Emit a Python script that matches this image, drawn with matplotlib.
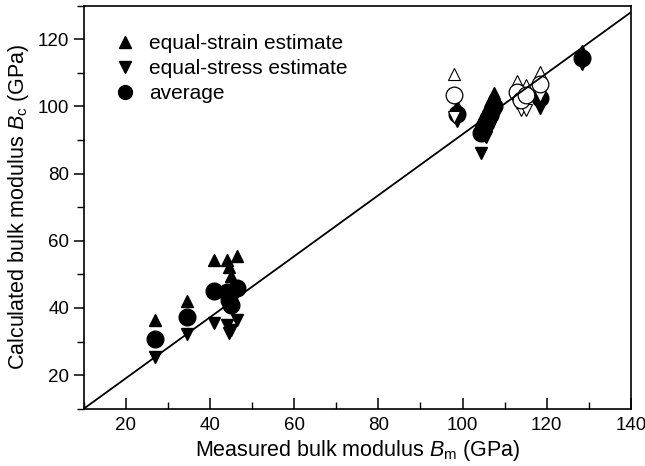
import matplotlib
matplotlib.use("Agg")
import matplotlib.pyplot as plt
from matplotlib.ticker import MultipleLocator

plt.rcParams['font.family'] = ['Liberation Sans', 'DejaVu Sans']
plt.rcParams['mathtext.fontset'] = 'custom'
plt.rcParams['mathtext.rm'] = 'Liberation Sans'
plt.rcParams['mathtext.it'] = 'Liberation Sans:italic'

# Filled symbols (materials, legend series)
x_filled = [26.8, 34.6, 41.0, 44.0, 44.5, 45.0, 46.3, 98.8, 104.5, 105.5, 106.5, 107.5, 118.5, 128.5]
strain_filled = [36.4, 42.0, 54.3, 54.3, 52.3, 49.5, 55.5, 100.0, 96.0, 99.0, 101.5, 104.0, 105.5, 116.5]
stress_filled = [25.3, 32.1, 35.4, 34.9, 32.4, 33.5, 36.3, 95.5, 86.0, 91.0, 94.0, 96.5, 99.5, 112.5]
average_filled = [30.8, 37.2, 45.0, 44.8, 42.3, 41.0, 46.0, 97.8, 92.0, 95.0, 97.5, 100.0, 102.5, 114.5]

# Open symbols
x_open = [98.0, 113.0, 114.0, 115.0, 118.3]
strain_open = [109.6, 107.5, 105.0, 106.3, 110.3]
stress_open = [96.8, 101.0, 99.0, 99.0, 103.0]
average_open = [103.3, 104.3, 102.0, 103.4, 106.7]

# Fitted line
fit_x = [10, 140]
fit_y = [10, 128]

labels = ["equal-strain estimate", "equal-stress estimate", "average"]

fig = plt.figure(figsize=(6.45, 4.66), dpi=100)
ax = fig.add_axes([0.130, 0.123, 0.848, 0.865])

ax.plot(x_filled, strain_filled, '^', color='black', ms=8, ls='none', label=labels[0], zorder=3)
ax.plot(x_filled, stress_filled, 'v', color='black', ms=8, ls='none', label=labels[1], zorder=3)
ax.plot(x_filled, average_filled, 'o', color='black', ms=12, ls='none', label=labels[2], zorder=3)

ax.plot(x_open, strain_open, '^', mfc='white', mec='black', mew=0.8, ms=8, ls='none', zorder=4)
ax.plot(x_open, stress_open, 'v', mfc='white', mec='black', mew=0.8, ms=8, ls='none', zorder=4)
ax.plot(x_open, average_open, 'o', mfc='white', mec='black', mew=0.9, ms=12, ls='none', zorder=4)

ax.plot(fit_x, fit_y, '-', color='black', lw=1.3, zorder=5)

ax.set_xlim(10, 140)
ax.set_ylim(10, 130)
ax.xaxis.set_minor_locator(MultipleLocator(10))
ax.yaxis.set_minor_locator(MultipleLocator(10))
ax.set_xticks([20, 40, 60, 80, 100, 120, 140])
ax.set_yticks([20, 40, 60, 80, 100, 120])

ax.tick_params(axis='x', which='major', direction='in', length=8, width=1.1, labelsize=13.5, pad=6)
ax.tick_params(axis='x', which='minor', direction='in', length=5, width=1.0)
ax.tick_params(axis='y', which='major', direction='out', length=7, width=1.1, labelsize=13.5)
ax.tick_params(axis='y', which='minor', direction='out', length=5, width=1.0)
for s in ax.spines.values():
    s.set_linewidth(1.2)

ax.set_xlabel(r"Measured bulk modulus $B_\mathrm{m}$ (GPa)", fontsize=15.5, labelpad=3)
ax.set_ylabel(r"Calculated bulk modulus $B_\mathrm{c}$ (GPa)", fontsize=15.5, labelpad=5)

leg = ax.legend(loc='upper left', bbox_to_anchor=(0.03, 0.96), frameon=False,
                fontsize=15, handletextpad=0.55, labelspacing=0.28,
                handlelength=1.2, borderaxespad=0.2)
hs = leg.legend_handles
hs[0].set_markersize(9)
hs[1].set_markersize(9)
hs[2].set_markersize(10)

fig.savefig("out.png", dpi=100)
